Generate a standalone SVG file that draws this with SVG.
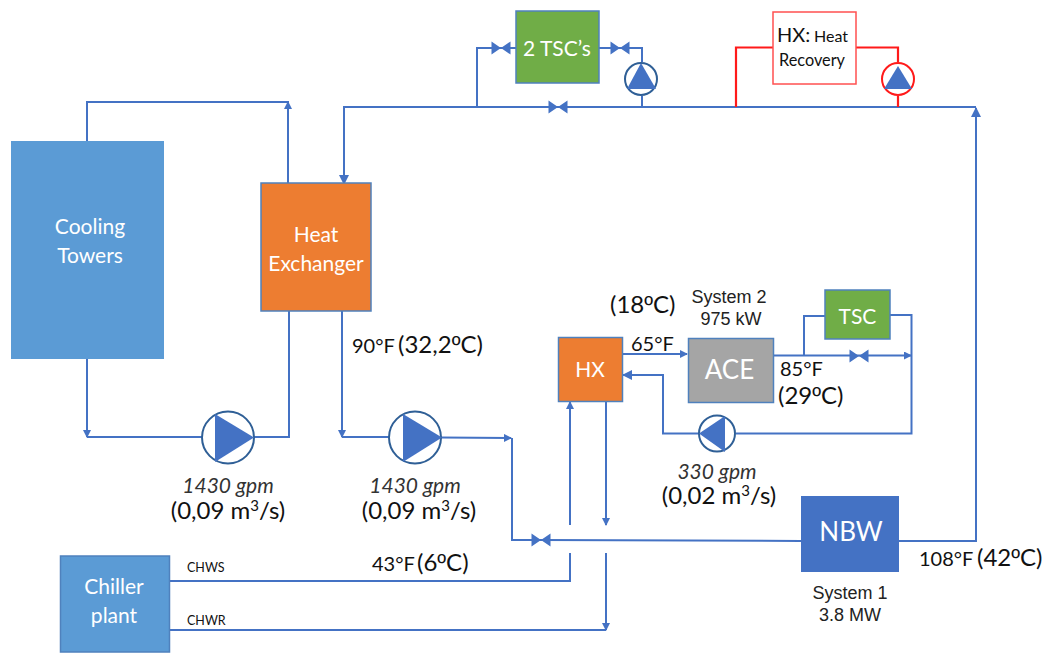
<svg xmlns="http://www.w3.org/2000/svg" width="1050" height="653" viewBox="0 0 1050 653">
<style>
text{font-family:Lato,"Liberation Sans",sans-serif;fill:#111}
.w{fill:#fff;text-anchor:middle}
.l{font-size:21px}
.a{font-family:"Liberation Sans",Arial,sans-serif;fill:#222;text-anchor:middle;font-size:18px}
.b{font-size:24px}
.c{font-size:20px}
.i{font-size:21px;font-style:italic;fill:#333;text-anchor:middle}
.o{font-family:"Liberation Sans",Arial,sans-serif}
.p{fill:none;stroke:#4472c4;stroke-width:2}
.r{fill:none;stroke:#ff1a1a;stroke-width:2.2}
.n{stroke:#4f81bd;stroke-width:1.5}
</style>
<defs>
<marker id="ar" viewBox="0 0 8 8" refX="7" refY="4" markerWidth="8" markerHeight="8" markerUnits="userSpaceOnUse" orient="auto"><path d="M0 0L8 4L0 8Z" fill="#4472c4"/></marker>
<marker id="ab" viewBox="0 0 10 10" refX="9" refY="5" markerWidth="10" markerHeight="10" markerUnits="userSpaceOnUse" orient="auto"><path d="M0 0L10 5L0 10Z" fill="#4472c4"/></marker>
<g id="v"><path d="M-9.500 -6.500L9.500 6.500V-6.500L-9.500 6.500Z" fill="#4472c4"/></g>
</defs>
<g id="connectors">
<path class="p" d="M976 107H344V184" marker-end="url(#ab)"/>
<path class="p" d="M477 107V48H516M599 48H642V62M642 96V107"/>
<path class="r" d="M736 107V47.500H773M856 47.500H898V62M898 96V107"/>
<path class="p" d="M899 541H976V108" marker-end="url(#ab)"/>
<path class="p" d="M288 183V102H87V141"/>
<path class="p" d="M288 125V102" marker-end="url(#ar)"/>
<path class="p" d="M87 359V437" marker-end="url(#ar)"/>
<path class="p" d="M87 437H202M254 437H289V311"/>
<path class="p" d="M342 311V437" marker-end="url(#ar)"/>
<path class="p" d="M342 437H389"/>
<path class="p" d="M441 437.500L511 438" marker-end="url(#ar)"/>
<path class="p" d="M512 438V540H541L801 541"/>
<path class="p" d="M570 525V402" marker-end="url(#ar)"/>
<path class="p" d="M606 401V525" marker-end="url(#ar)"/>
<path class="p" d="M169 581H570V553"/>
<path class="p" d="M606 553V630" marker-end="url(#ar)"/>
<path class="p" d="M169 630H606"/>
<path class="p" d="M622 354H687" marker-end="url(#ar)"/>
<path class="p" d="M773 355.500H911" marker-end="url(#ar)"/>
<path class="p" d="M804 355V316H825M890 315H911.500V433.500H736M699 433.500H663V375H623" marker-end="url(#ab)"/>
<use href="#v" x="501" y="48"/>
<use href="#v" x="620" y="48"/>
<use href="#v" x="558" y="107"/>
<use href="#v" x="859" y="356"/>
<use href="#v" x="541" y="540"/>
</g>
<g id="cooling-towers"><rect x="11" y="141" width="153" height="218" fill="#5b9bd5"/><text class="w l" x="90" y="234">Cooling</text><text class="w l" x="90" y="263">Towers</text></g>
<g id="heat-exchanger"><rect class="n" x="261" y="183" width="110" height="128" fill="#ed7d31"/><text class="w l" x="316" y="242">Heat</text><text class="w l" x="316" y="271">Exchanger</text></g>
<g id="chiller-plant"><rect class="n" x="60.500" y="556" width="109" height="96" fill="#5b9bd5"/><text class="w l" x="114" y="594">Chiller</text><text class="w l" x="114" y="623">plant</text></g>
<g id="tsc2"><rect class="n" x="516" y="11" width="83" height="72" fill="#70ad47"/><text class="w l" x="557" y="56">2 TSC’s</text></g>
<g id="hx-recovery"><rect x="773" y="12" width="83" height="72" fill="#fff" stroke="#ff5050" stroke-width="1.500"/><text x="777" y="42" font-size="20">HX:</text><text x="814" y="42" font-size="16" fill="#333">Heat</text><text x="779" y="66" font-size="16.300" fill="#333">Recovery</text></g>
<g id="hx"><rect class="n" x="558.500" y="337.500" width="64" height="64" fill="#ed7d31"/><text class="w l" x="590" y="377">HX</text></g>
<g id="ace"><rect class="n" x="688.500" y="338.500" width="85" height="64" fill="#a5a5a5"/><text class="w" x="729.500" y="379" font-size="26">ACE</text></g>
<g id="tsc"><rect class="n" x="825" y="290" width="65" height="49" fill="#70ad47"/><text class="w l" x="857.500" y="324">TSC</text></g>
<g id="nbw"><rect x="801" y="496" width="98" height="76" fill="#4472c4"/><text class="w" x="851" y="541" font-size="26">NBW</text></g>
<g id="pump-1"><circle cx="228" cy="437.500" r="26" fill="#fff" stroke="#2f5f96" stroke-width="2"/><path d="M215 414L254 437.500L215 462Z" fill="#4472c4"/></g>
<g id="pump-2"><circle cx="415" cy="437.500" r="26" fill="#fff" stroke="#2f5f96" stroke-width="2"/><path d="M403 414L442 437.500L403 462Z" fill="#4472c4"/></g>
<g id="pump-3"><circle cx="717" cy="433.500" r="18" fill="#fff" stroke="#2f5f96" stroke-width="2"/><path d="M699 433.500L725 416V452Z" fill="#4472c4"/></g>
<g id="pump-4"><circle cx="641" cy="79" r="16" fill="#fff" stroke="#2f5f96" stroke-width="2"/><path d="M641 63L656 89H627Z" fill="#4472c4"/></g>
<g id="pump-5"><circle cx="898" cy="79" r="16" fill="#fff" stroke="#ff1a1a" stroke-width="2"/><path d="M898 66L912 89H884Z" fill="#4472c4"/></g>
<g id="labels">
<text class="c" x="352" y="353">90°F</text><text class="b" x="398" y="353">(32,2<tspan class="o">º</tspan>C)</text>
<text class="b" x="610" y="313">(18<tspan class="o">º</tspan>C)</text>
<text class="a" x="729" y="303">System 2</text><text class="a" x="731" y="325">975 kW</text>
<text class="c" x="631" y="351">65°F</text>
<text class="c" x="780" y="376">85°F</text><text class="b" x="778" y="404">(29<tspan class="o">º</tspan>C)</text>
<text class="i" x="228" y="493">1430 gpm</text><text class="b" x="228" y="519" text-anchor="middle">(0,09 m<tspan font-size="15" dy="-8">3</tspan><tspan dy="8">/s)</tspan></text>
<text class="i" x="415" y="493">1430 gpm</text><text class="b" x="419" y="519" text-anchor="middle">(0,09 m<tspan font-size="15" dy="-8">3</tspan><tspan dy="8">/s)</tspan></text>
<text class="i" x="717" y="479">330 gpm</text><text class="b" x="719" y="504" text-anchor="middle">(0,02 m<tspan font-size="15" dy="-8">3</tspan><tspan dy="8">/s)</tspan></text>
<text class="c" x="372" y="571">43°F</text><text class="b" x="417" y="571">(6<tspan class="o">º</tspan>C)</text>
<text class="c" x="919" y="566">108°F</text><text class="b" x="977" y="566">(42<tspan class="o">º</tspan>C)</text>
<text class="a" x="850" y="599">System 1</text><text class="a" x="850" y="621">3.8 MW</text>
<text x="187" y="572" font-size="12.500" fill="#333">CHWS</text>
<text x="187" y="625" font-size="12.500" fill="#333">CHWR</text>
</g>
</svg>
